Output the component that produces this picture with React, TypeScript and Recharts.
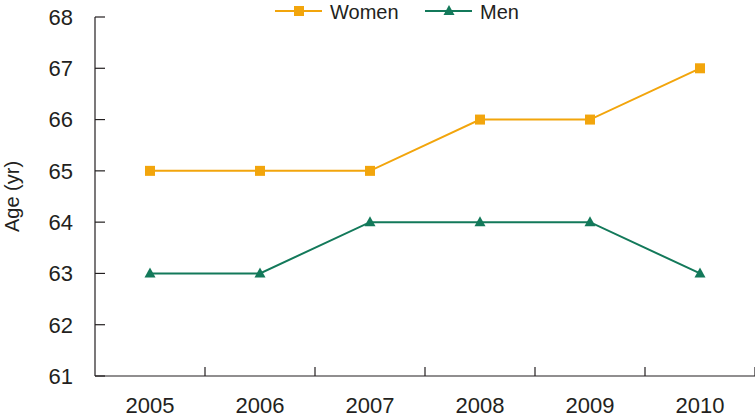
import { LineChart, Line, XAxis, YAxis } from "recharts";

const years = ["2005", "2006", "2007", "2008", "2009", "2010"];
const women = [65, 65, 65, 66, 66, 67];
const men = [63, 63, 64, 64, 64, 63];
const yTicks = [61, 62, 63, 64, 65, 66, 67, 68];

const ORANGE = "#F2A50C";
const GREEN = "#13795A";
const FONT = "'Liberation Sans', Arial, sans-serif";
const TEXT = "#231F20";

const data = years.map((year, i) => ({ year, women: women[i], men: men[i] }));

if (typeof document !== "undefined") document.body.style.margin = "0";

const Square = (props: any) => {
  const { cx, cy } = props;
  return <rect x={cx - 5} y={cy - 5} width={10} height={10} fill={ORANGE} />;
};

const Triangle = (props: any) => {
  const { cx, cy } = props;
  return <path d={`M${cx},${cy - 6} L${cx + 5.5},${cy + 4} L${cx - 5.5},${cy + 4} Z`} fill={GREEN} />;
};

const YTick = ({ x, y, payload }: any) => (
  <g>
    <line x1={x} y1={y} x2={x + 10} y2={y} stroke={TEXT} strokeWidth={1.2} />
    <text x={x - 22} y={y} dy="0.36em" textAnchor="end" fontSize={22} fontFamily={FONT} fill={TEXT}>
      {payload.value}
    </text>
  </g>
);

const XTick = ({ x, y, payload }: any) => (
  <g>
    <line x1={x + 55} y1={y} x2={x + 55} y2={y - 9} stroke={TEXT} strokeWidth={1.2} />
    <text x={x} y={y + 37} textAnchor="middle" fontSize={22} fontFamily={FONT} fill={TEXT}>
      {payload.value}
    </text>
  </g>
);

const legendItems = [
  { name: "Women", color: ORANGE, shape: "square", x: 275 },
  { name: "Men", color: GREEN, shape: "triangle", x: 425 },
];

export default function App() {
  return (
    <div style={{ position: "relative", width: 755, height: 419, background: "#fff" }}>
      <LineChart width={755} height={419} data={data} margin={{ top: 17, right: 0, bottom: 0, left: 0 }}>
        <XAxis
          dataKey="year"
          height={43}
          padding={{ left: 55, right: 55 }}
          axisLine={{ stroke: TEXT, strokeWidth: 1.2 }}
          tickLine={false}
          tickSize={0}
          tickMargin={0}
          tick={<XTick />}
          interval={0}
        />
        <YAxis
          width={95}
          domain={[61, 68]}
          ticks={yTicks}
          axisLine={{ stroke: TEXT, strokeWidth: 1.2 }}
          tickLine={false}
          tickSize={0}
          tickMargin={0}
          tick={<YTick />}
          label={{
            content: ({ viewBox }: any) => {
              const cx = 12;
              const cy = viewBox.y + viewBox.height / 2;
              return (
                <text
                  x={cx}
                  y={cy}
                  transform={`rotate(-90 ${cx} ${cy})`}
                  textAnchor="middle"
                  dy="0.35em"
                  fontSize={20}
                  fontFamily={FONT}
                  fill={TEXT}
                >
                  Age (yr)
                </text>
              );
            },
          }}
        />
        <Line dataKey="women" name="Women" stroke={ORANGE} strokeWidth={2} dot={<Square />} activeDot={false} isAnimationActive={false} />
        <Line dataKey="men" name="Men" stroke={GREEN} strokeWidth={2} dot={<Triangle />} activeDot={false} isAnimationActive={false} />
      </LineChart>
      <svg width={755} height={30} style={{ position: "absolute", left: 0, top: 0 }}>
        {legendItems.map((it) => (
          <g key={it.name}>
            <line x1={it.x} y1={11} x2={it.x + 47} y2={11} stroke={it.color} strokeWidth={2} />
            {it.shape === "square" ? (
              <rect x={it.x + 19} y={6} width={10} height={10} fill={it.color} />
            ) : (
              <path d={`M${it.x + 24},${5} L${it.x + 29.5},${15} L${it.x + 18.5},${15} Z`} fill={it.color} />
            )}
            <text x={it.x + 55} y={12} dy="0.36em" fontSize={20} fontFamily={FONT} fill={TEXT}>
              {it.name}
            </text>
          </g>
        ))}
      </svg>
    </div>
  );
}
